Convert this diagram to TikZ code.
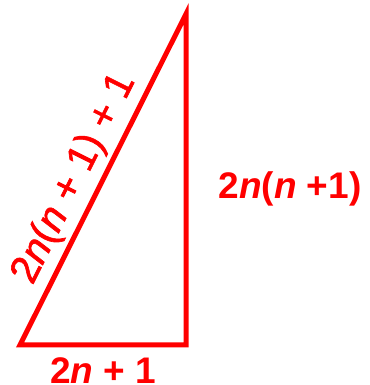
\documentclass[tikz,border=0pt]{standalone}
\usepackage{fontspec}
\setmainfont{Liberation Sans}
\newfontfamily\hypfont[FakeBold=1.6]{Liberation Sans}
\tikzset{
  side/.style={red, line width=5pt},
  lab/.style={red, font=\fontsize{37}{40}\selectfont\bfseries, inner sep=0pt},
  hyplab/.style={red, font=\hypfont\fontsize{40}{44}\selectfont, inner sep=0pt}
}
\begin{document}
\begin{tikzpicture}[x=1pt,y=1pt]
\useasboundingbox (0,0) rectangle (369,385);
% Corners
\coordinate (A) at (20,40);
\coordinate (B) at (186,40);
\coordinate (C) at (186,371);

% Draw triangle
\draw[side] (A) -- (B) -- (C) -- cycle;

% Label sides
\node[lab] (base) at (103,14) {2\textit{n} + 1};
\node[lab] (leg) at (290,196) {2\textit{n}(\textit{n} +1)};
\path (A) -- (C) node[hyplab, midway, sloped, above=7pt, xshift=-12pt] (hyp) {2\textit{n}(\textit{n} + 1) + 1};
\end{tikzpicture}
\end{document}
